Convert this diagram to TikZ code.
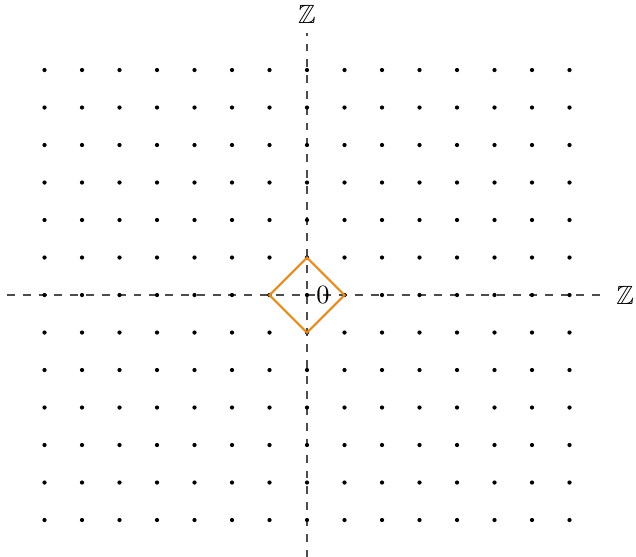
\documentclass[tikz,border=0pt]{standalone}
\usepackage{amssymb}
\definecolor{diamondorange}{RGB}{230,140,30}
\begin{document}
\begin{tikzpicture}[x=0.5cm,y=0.5cm,
  axis/.style={dashed,black!70,line width=0.4pt},
  latticedot/.style={circle,fill=black,inner sep=0pt,minimum size=1.6pt},
  ball/.style={diamondorange,thick,line join=miter}]
\useasboundingbox (-8.187,-6.96) rectangle (8.773,7.867);
\coordinate (xl) at (-8,0);
\coordinate (xr) at (8,0);
\coordinate (yb) at (0,-7);
\coordinate (yt) at (0,7);
\draw[axis] (xl) -- (xr) node[right,black] (zx) {$\mathbb{Z}$};
\draw[axis] (yb) -- (yt) node[above,black] (zy) {$\mathbb{Z}$};
\foreach \i in {-7,...,7}{
  \foreach \j in {-6,...,6}{
    \node[latticedot] (p\i\j) at (\i,\j) {};
  }
}
\coordinate (d1) at (1,0);
\coordinate (d2) at (0,1);
\coordinate (d3) at (-1,0);
\coordinate (d4) at (0,-1);
\draw[ball] (d1) -- (d2) -- (d3) -- (d4) -- cycle;
\node[right] (zero) at (0,0) {$0$};
\end{tikzpicture}
\end{document}
